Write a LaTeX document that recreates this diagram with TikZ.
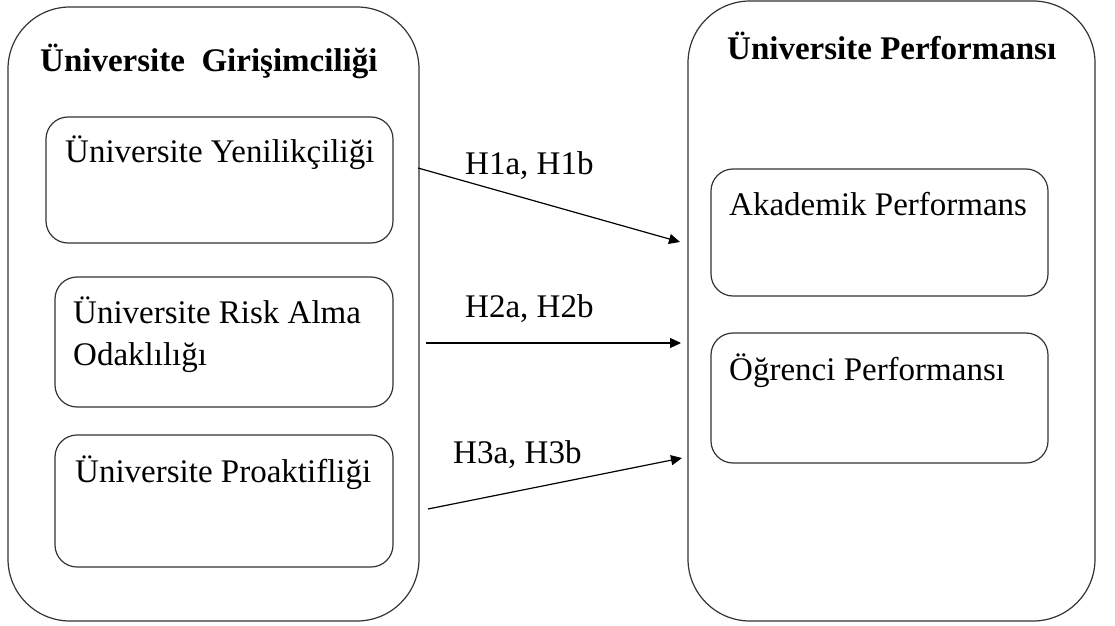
\documentclass[tikz,border=0pt]{standalone}
\usepackage{fontspec}
\setmainfont{Liberation Serif}
\usetikzlibrary{arrows.meta}
\tikzset{
  bigbox/.style={draw=black!80,line width=1.2pt,rounded corners=62pt,inner sep=0pt,outer sep=0pt},
  smallbox/.style={draw=black!80,line width=1.2pt,rounded corners=22pt,inner sep=0pt,outer sep=0pt},
  txt/.style={inner sep=0pt,anchor=base west,align=left,font=\fontsize{33}{42}\selectfont},
  ttl/.style={txt,font=\fontsize{33}{40}\selectfont\bfseries},
  arr/.style={line width=1.2pt,-{Triangle[length=11pt,width=10pt]}}
}
\begin{document}
\begin{tikzpicture}[x=1pt,y=1pt]
	\useasboundingbox (0,0) rectangle (1115,625);
	\node[bigbox,minimum width=411pt,minimum height=614pt] (lbox) at (213.5,311) {};
	\node[bigbox,minimum width=407pt,minimum height=620pt] (rbox) at (891.5,314) {};
	\node[ttl] (ltitle) at (40,553) {Üniversite\ \ Girişimciliği};
	\node[ttl] (rtitle) at (727,565) {Üniversite Performansı};
	\node[smallbox,minimum width=347pt,minimum height=126pt] (yen) at (219.5,445) {};
	\node[smallbox,minimum width=338pt,minimum height=130pt] (risk) at (224,283) {};
	\node[smallbox,minimum width=338pt,minimum height=132pt] (proak) at (224,124) {};
	\node[smallbox,minimum width=337pt,minimum height=127pt] (akad) at (879.5,392.5) {};
	\node[smallbox,minimum width=337pt,minimum height=130pt] (ogr) at (879.5,227) {};
	\node[txt] (yentxt) at ([shift={(19,-46)}]yen.north west) {Üniversite Yenilikçiliği};
	\node[txt] (risktxt) at ([shift={(18,-88)}]risk.north west) {Üniversite Risk Alma\\Odaklılığı};
	\node[txt] (proaktxt) at ([shift={(20,-47)}]proak.north west) {Üniversite Proaktifliği};
	\node[txt] (akadtxt) at ([shift={(18,-46)}]akad.north west) {Akademik Performans};
	\node[txt] (ogrtxt) at ([shift={(18,-47)}]ogr.north west) {Öğrenci Performansı};
	\coordinate (h1s) at (418,457);
	\coordinate (h1e) at (680,383);
	\coordinate (h2s) at (426,282);
	\coordinate (h2e) at (681,282);
	\coordinate (h3s) at (428,116);
	\coordinate (h3e) at (682,167);
	\draw[arr] (h1s) -- (h1e);
	\draw[arr] (h2s) -- (h2e);
	\draw[arr] (h3s) -- (h3e);
	\node[txt] (h1) at (465,450) {H1a, H1b};
	\node[txt] (h2) at (465,308) {H2a, H2b};
	\node[txt] (h3) at (453,162) {H3a, H3b};
\end{tikzpicture}
\end{document}
